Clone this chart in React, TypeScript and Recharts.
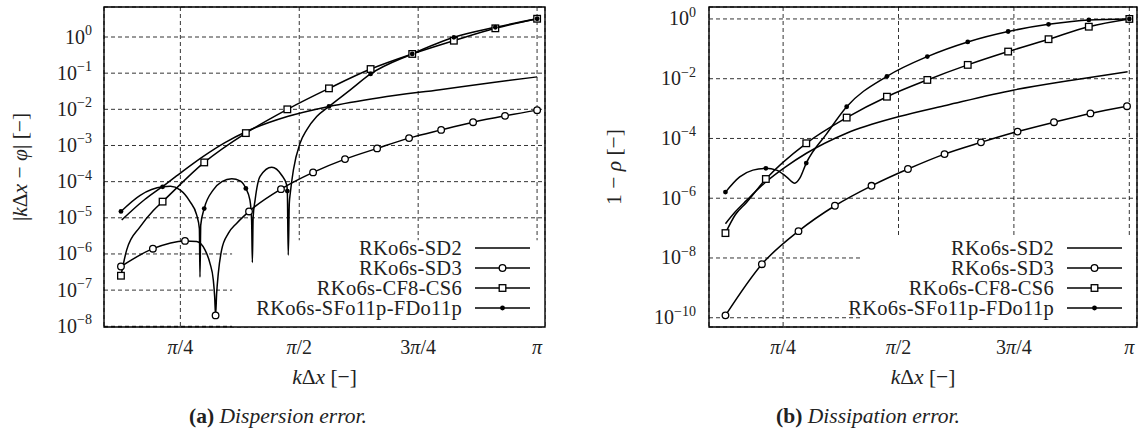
import React from "react";
import {
  ComposedChart,
  Line,
  XAxis,
  YAxis,
  CartesianGrid,
  ReferenceArea,
  Legend,
} from "recharts";

// [kΔx, error, marker?]
type Pt = [number, number, number?];

const PI = Math.PI;
const xTicks = [PI / 4, PI / 2, (3 * PI) / 4, PI];
const xTickLabels = ["π/4", "π/2", "3π/4", "π"];

const seriesNames = ["RKo6s-SD2", "RKo6s-SD3", "RKo6s-CF8-CS6", "RKo6s-SFo11p-FDo11p"];
const seriesMarks = ["none", "circle", "square", "dot"];

const dispTicks = [1e-8, 1e-7, 1e-6, 1e-5, 1e-4, 1e-3, 1e-2, 1e-1, 1];
const dissTicks = [1e-10, 1e-8, 1e-6, 1e-4, 1e-2, 1];

// (a) dispersion error
const dispSd2: Pt[] = [
  [0.398, 8.7e-6], [0.473, 1.7e-5], [0.55, 3.2e-5], [0.673, 7.6e-5], [0.783, 1.7e-4],
  [0.937, 5.0e-4], [1.08, 1.2e-3], [1.219, 2.4e-3], [1.492, 6.3e-3], [1.767, 1.2e-2],
  [2.1, 2.1e-2], [2.5, 3.5e-2], [2.85, 5.5e-2], [3.142, 7.9e-2],
];
const dispSd3: Pt[] = [
  [0.393, 4.5e-7, 1], [0.604, 1.4e-6, 1], [0.816, 2.3e-6, 1], [0.893, 2.2e-6], [0.948, 1.3e-6],
  [0.981, 5.5e-7], [1.003, 1.9e-7], [1.012, 6.6e-8], [1.018, 2.0e-8, 1], [1.025, 7.9e-8],
  [1.036, 2.9e-7], [1.058, 1.3e-6], [1.102, 3.7e-6], [1.158, 7.1e-6], [1.239, 1.5e-5, 1],
  [1.45, 6.2e-5, 1], [1.662, 1.8e-4, 1], [1.873, 4.2e-4, 1], [2.085, 8.3e-4, 1], [2.296, 1.6e-3, 1],
  [2.508, 2.7e-3, 1], [2.719, 4.4e-3, 1], [2.93, 6.6e-3, 1], [3.142, 9.5e-3, 1],
];
const dispCf8: Pt[] = [
  [0.393, 2.5e-7, 1], [0.431, 1.3e-6], [0.519, 5.6e-6], [0.607, 1.6e-5], [0.668, 2.8e-5, 1],
  [0.943, 3.4e-4, 1], [1.218, 2.2e-3, 1], [1.492, 1.0e-2, 1], [1.767, 3.8e-2, 1], [2.042, 0.13, 1],
  [2.317, 0.34, 1], [2.592, 0.79, 1], [2.866, 1.74, 1], [3.142, 3.2, 1],
];
const dispSf11: Pt[] = [
  [0.393, 1.5e-5, 1], [0.52, 4.2e-5], [0.668, 7.2e-5, 1], [0.72, 7.4e-5], [0.783, 5.9e-5],
  [0.849, 2.8e-5], [0.893, 1.2e-5], [0.911, 5.0e-6], [0.915, 2.3e-7], [0.92, 6.3e-6],
  [0.943, 1.8e-5, 1], [1.003, 5.9e-5], [1.06, 1.0e-4], [1.125, 1.2e-4], [1.18, 1.05e-4],
  [1.218, 6.5e-5, 1], [1.245, 3.1e-5], [1.256, 8.7e-6], [1.261, 5.8e-7], [1.266, 1.0e-5],
  [1.279, 3.1e-5], [1.312, 1.4e-4], [1.389, 2.5e-4], [1.455, 1.5e-4], [1.488, 8.1e-5],
  [1.492, 5.5e-5, 1], [1.498, 9.3e-7], [1.505, 2.5e-5], [1.512, 5.0e-5], [1.532, 2.1e-4],
  [1.576, 1.15e-3], [1.62, 2.7e-3], [1.686, 6.3e-3], [1.767, 1.2e-2, 1], [1.906, 3.4e-2],
  [2.042, 9.5e-2, 1], [2.317, 0.34, 1], [2.592, 0.98, 1], [2.866, 1.86, 1], [3.142, 3.2, 1],
];

// (b) dissipation error
const dissSd2: Pt[] = [
  [0.393, 1.4e-7], [0.46, 3.5e-7], [0.535, 8.3e-7], [0.668, 3.5e-6], [0.8, 1.1e-5],
  [0.944, 3.2e-5], [1.217, 1.5e-4], [1.575, 5.4e-4], [1.9, 1.3e-3], [2.358, 4.2e-3],
  [2.75, 8.9e-3], [3.13, 1.7e-2],
];
const dissSd3: Pt[] = [
  [0.393, 1.2e-10, 1], [0.641, 6.2e-9, 1], [0.89, 7.9e-8, 1], [1.138, 5.6e-7, 1],
  [1.387, 2.6e-6, 1], [1.635, 9.5e-6, 1], [1.884, 3.0e-5, 1], [2.132, 7.4e-5, 1],
  [2.381, 1.7e-4, 1], [2.629, 3.5e-4, 1], [2.877, 6.9e-4, 1], [3.126, 1.2e-3, 1],
];
const dissCf8: Pt[] = [
  [0.393, 6.8e-8, 1], [0.46, 2.8e-7], [0.535, 7.1e-7], [0.668, 4.4e-6, 1], [0.943, 6.9e-5, 1],
  [1.218, 5.0e-4, 1], [1.492, 2.5e-3, 1], [1.767, 9.1e-3, 1], [2.042, 2.9e-2, 1],
  [2.317, 8.1e-2, 1], [2.592, 0.21, 1], [2.866, 0.55, 1], [3.142, 1.0, 1],
];
const dissSf11: Pt[] = [
  [0.393, 1.6e-6, 1], [0.49, 5.2e-6], [0.58, 8.7e-6], [0.668, 1.0e-5, 1], [0.74, 8.7e-6],
  [0.808, 5.2e-6], [0.865, 3.2e-6], [0.899, 4.7e-6], [0.943, 1.5e-5, 1], [1.08, 1.4e-4],
  [1.218, 1.15e-3, 1], [1.492, 1.2e-2, 1], [1.767, 5.5e-2, 1], [2.042, 0.17, 1],
  [2.317, 0.38, 1], [2.592, 0.66, 1], [2.866, 0.93, 1], [3.142, 1.0, 1],
];

const FONT = "'Liberation Serif', 'DejaVu Serif', serif";
const INK = "#222";
const H = 441;

interface Geo {
  left: number;
  width: number;
  plotL: number;
  plotR: number;
  plotT: number;
  plotB: number;
}

function Marker({ kind, cx, cy }: { kind: string; cx: number; cy: number }) {
  if (kind === "circle")
    return <circle cx={cx} cy={cy} r={3.3} fill="#fff" stroke="#000" strokeWidth={1.3} />;
  if (kind === "square")
    return <rect x={cx - 3.3} y={cy - 3.3} width={6.6} height={6.6} fill="#fff" stroke="#000" strokeWidth={1.3} />;
  if (kind === "dot") return <circle cx={cx} cy={cy} r={2.4} fill="#000" />;
  return null;
}

function YLabelTick(props: any) {
  const { y, payload, labelX } = props;
  const e = Math.round(Math.log10(payload.value));
  return (
    <text x={labelX} y={y + 6.5} textAnchor="end" fontFamily={FONT} fontSize={20} fill={INK}>
      10
      <tspan dy={-8.5} fontSize={14}>
        {e === 0 ? "0" : "−" + Math.abs(e)}
      </tspan>
    </text>
  );
}

// short inward tick marks on the frame
function FrameTick(props: any) {
  const { y, x0, dir } = props;
  return <line x1={x0} x2={x0 + dir * 4} y1={y} y2={y} stroke="#000" strokeWidth={0.7} />;
}

function XLabelTick(props: any) {
  const { x, payload, labelY } = props;
  const i = xTicks.indexOf(payload.value);
  const s = xTickLabels[i] ?? "";
  const k = s.indexOf("π");
  return (
    <text x={x} y={labelY} textAnchor="middle" fontFamily={FONT} fontSize={20} fill={INK}>
      {s.slice(0, k)}
      <tspan fontStyle="italic">π</tspan>
      {s.slice(k + 1)}
    </text>
  );
}

function XTitle({ cx, y }: { cx: number; y: number }) {
  return (
    <text x={cx} y={y} textAnchor="middle" fontFamily={FONT} fontSize={21.5} fill={INK}>
      <tspan fontStyle="italic">k</tspan>Δ<tspan fontStyle="italic">x</tspan> [−]
    </text>
  );
}

function YTitle({ cx, cy, kind }: { cx: number; cy: number; kind: string }) {
  return (
    <text
      x={cx}
      y={cy}
      transform={`rotate(-90 ${cx} ${cy})`}
      textAnchor="middle"
      dominantBaseline="central"
      fontFamily={FONT}
      fontSize={21.5}
      fill={INK}
    >
      {kind === "disp" ? (
        <>
          |<tspan fontStyle="italic">k</tspan>Δ<tspan fontStyle="italic">x</tspan> − <tspan fontStyle="italic">φ</tspan>| [−]
        </>
      ) : (
        <>
          1 − <tspan fontStyle="italic">ρ</tspan> [−]
        </>
      )}
    </text>
  );
}

function LegendBox({ sampleW, gap }: { sampleW: number; gap: number }) {
  return (
    <div style={{ fontFamily: FONT, fontSize: 20.5, letterSpacing: 0.3, color: INK, lineHeight: "20px" }}>
      {seriesNames.map((name, i) => (
        <div key={name} style={{ display: "flex", justifyContent: "flex-end", alignItems: "center", height: 20 }}>
          <span style={{ whiteSpace: "nowrap" }}>{name}</span>
          <svg width={sampleW} height={12} style={{ marginLeft: gap }}>
            <line x1={0} x2={sampleW} y1={6} y2={6} stroke="#000" strokeWidth={1.5} />
            <Marker kind={seriesMarks[i]} cx={sampleW / 2} cy={6} />
          </svg>
        </div>
      ))}
    </div>
  );
}

const toRows = (pts: Pt[]) => pts.map(([t, v, m]) => ({ t, v, m: m === 1 }));

interface ChartProps {
  geo: Geo;
  kind: "disp" | "diss";
  series: Pt[][];
  yDomain: [number, number];
  xDomain: [number, number];
  majors: number[];
  minors: number[];
  maskX: number;
  maskXEnd: number;
  maskY: number;
  legendRight: number;
  legendTop: number;
  sampleW: number;
  sampleGap: number;
  labelGap: number;
  yTitleX: number;
  tag: string;
  caption: string;
  captionX: number;
}

function ErrorChart(p: ChartProps) {
  const { geo } = p;
  const pl = geo.plotL - geo.left;
  const pr = geo.plotR - geo.left;
  const allTicks = [...p.majors, ...p.minors].sort((a, b) => a - b);
  const legendW = 340;
  return (
    <div style={{ position: "absolute", left: geo.left, top: 0, width: geo.width, height: H }}>
      <ComposedChart
        width={geo.width}
        height={H}
        margin={{ top: geo.plotT, right: geo.width - pr, bottom: 0, left: 0 }}
      >
        <CartesianGrid stroke="#000" strokeWidth={0.8} strokeDasharray="4 3" />
        <XAxis
          type="number"
          dataKey="t"
          domain={p.xDomain}
          allowDataOverflow
          ticks={xTicks}
          interval={0}
          height={H - geo.plotB}
          axisLine={false}
          tickLine={false}
          tick={<XLabelTick labelY={geo.plotB + 27} />}
          label={<XTitle cx={(pl + pr) / 2} y={geo.plotB + 57} />}
        />
        <YAxis
          type="number"
          scale="log"
          domain={p.yDomain}
          allowDataOverflow
          ticks={p.majors}
          interval={0}
          width={pl}
          axisLine={false}
          tickLine={false}
          tick={<YLabelTick labelX={pl - p.labelGap} />}
          label={<YTitle cx={p.yTitleX} cy={(geo.plotT + geo.plotB) / 2} kind={p.kind} />}
        />
        <YAxis
          yAxisId="frameL"
          type="number"
          scale="log"
          domain={p.yDomain}
          allowDataOverflow
          ticks={allTicks}
          interval={0}
          width={0}
          axisLine={false}
          tickLine={false}
          tick={<FrameTick x0={pl} dir={1} />}
        />
        <YAxis
          yAxisId="frameR"
          orientation="right"
          type="number"
          scale="log"
          domain={p.yDomain}
          allowDataOverflow
          ticks={allTicks}
          interval={0}
          width={0}
          axisLine={false}
          tickLine={false}
          tick={<FrameTick x0={pr} dir={-1} />}
        />
        {/* legend background hides the grid behind it */}
        <ReferenceArea
          x1={p.maskX}
          x2={p.maskXEnd}
          y1={p.yDomain[0]}
          y2={p.maskY}
          fill="#fff"
          fillOpacity={1}
          stroke="none"
          ifOverflow="visible"
        />
        {p.series.map((pts, i) => (
          <Line
            key={seriesNames[i]}
            data={toRows(pts)}
            dataKey="v"
            name={seriesNames[i]}
            type="monotone"
            stroke="#000"
            strokeWidth={1.5}
            isAnimationActive={false}
            activeDot={false}
            dot={(d: any) =>
              d.payload.m ? (
                <Marker key={d.index} kind={seriesMarks[i]} cx={d.cx} cy={d.cy} />
              ) : (
                <g key={d.index} />
              )
            }
          />
        ))}
        {/* frame */}
        <ReferenceArea
          x1={p.xDomain[0]}
          x2={p.xDomain[1]}
          y1={p.yDomain[0]}
          y2={p.yDomain[1]}
          fill="none"
          stroke="#000"
          strokeWidth={1.4}
          ifOverflow="visible"
        />
        <Legend
          layout="vertical"
          align="center"
          verticalAlign="middle"
          wrapperStyle={{ left: p.legendRight - legendW, top: p.legendTop, width: legendW, right: "auto", bottom: "auto" }}
          content={<LegendBox sampleW={p.sampleW} gap={p.sampleGap} />}
        />
      </ComposedChart>
      <div
        style={{
          position: "absolute",
          left: p.captionX - 200,
          width: 400,
          top: 406,
          textAlign: "center",
          fontFamily: FONT,
          fontSize: 21.5,
          lineHeight: 1,
          color: INK,
          whiteSpace: "nowrap",
        }}
      >
        <b style={{ fontStyle: "normal" }}>{p.tag}</b> <i>{p.caption}</i>
      </div>
    </div>
  );
}

function minorTicks(lo: number, hi: number): number[] {
  const out: number[] = [];
  for (let d = -10; d <= 1; d++) {
    for (let k = 2; k <= 9; k++) {
      const v = k * Math.pow(10, d);
      if (v > lo && v < hi) out.push(v);
    }
  }
  return out;
}

export default function App() {
  const dispDomain: [number, number] = [Math.pow(10, -8.02), Math.pow(10, 0.83)];
  const dissDomain: [number, number] = [Math.pow(10, -10.31), Math.pow(10, 0.4)];
  return (
    <div style={{ position: "absolute", left: 0, top: 0, width: 1142, height: H, overflow: "hidden", background: "#fff" }}>
      <ErrorChart
        geo={{ left: 0, width: 560, plotL: 104, plotR: 545, plotT: 7, plotB: 327 }}
        kind="disp"
        series={[dispSd2, dispSd3, dispCf8, dispSf11]}
        yDomain={dispDomain}
        xDomain={[0.281, 3.194]}
        majors={dispTicks}
        minors={minorTicks(dispDomain[0], dispDomain[1])}
        maskX={1.127}
        maskXEnd={3.194}
        maskY={2.4e-6}
        legendRight={530}
        legendTop={238}
        sampleW={55}
        sampleGap={13}
        labelGap={12}
        yTitleX={20}
        tag="(a)"
        caption="Dispersion error."
        captionX={278}
      />
      <ErrorChart
        geo={{ left: 582, width: 560, plotL: 709, plotR: 1137, plotT: 7, plotB: 327 }}
        kind="diss"
        series={[dissSd2, dissSd3, dissCf8, dissSf11]}
        yDomain={dissDomain}
        xDomain={[0.281, 3.194]}
        majors={dissTicks}
        minors={[]}
        maskX={1.328}
        maskXEnd={3.167}
        maskY={4.7e-8}
        legendRight={540}
        legendTop={238}
        sampleW={55}
        sampleGap={13}
        labelGap={13}
        yTitleX={32}
        tag="(b)"
        caption="Dissipation error."
        captionX={286}
      />
    </div>
  );
}
